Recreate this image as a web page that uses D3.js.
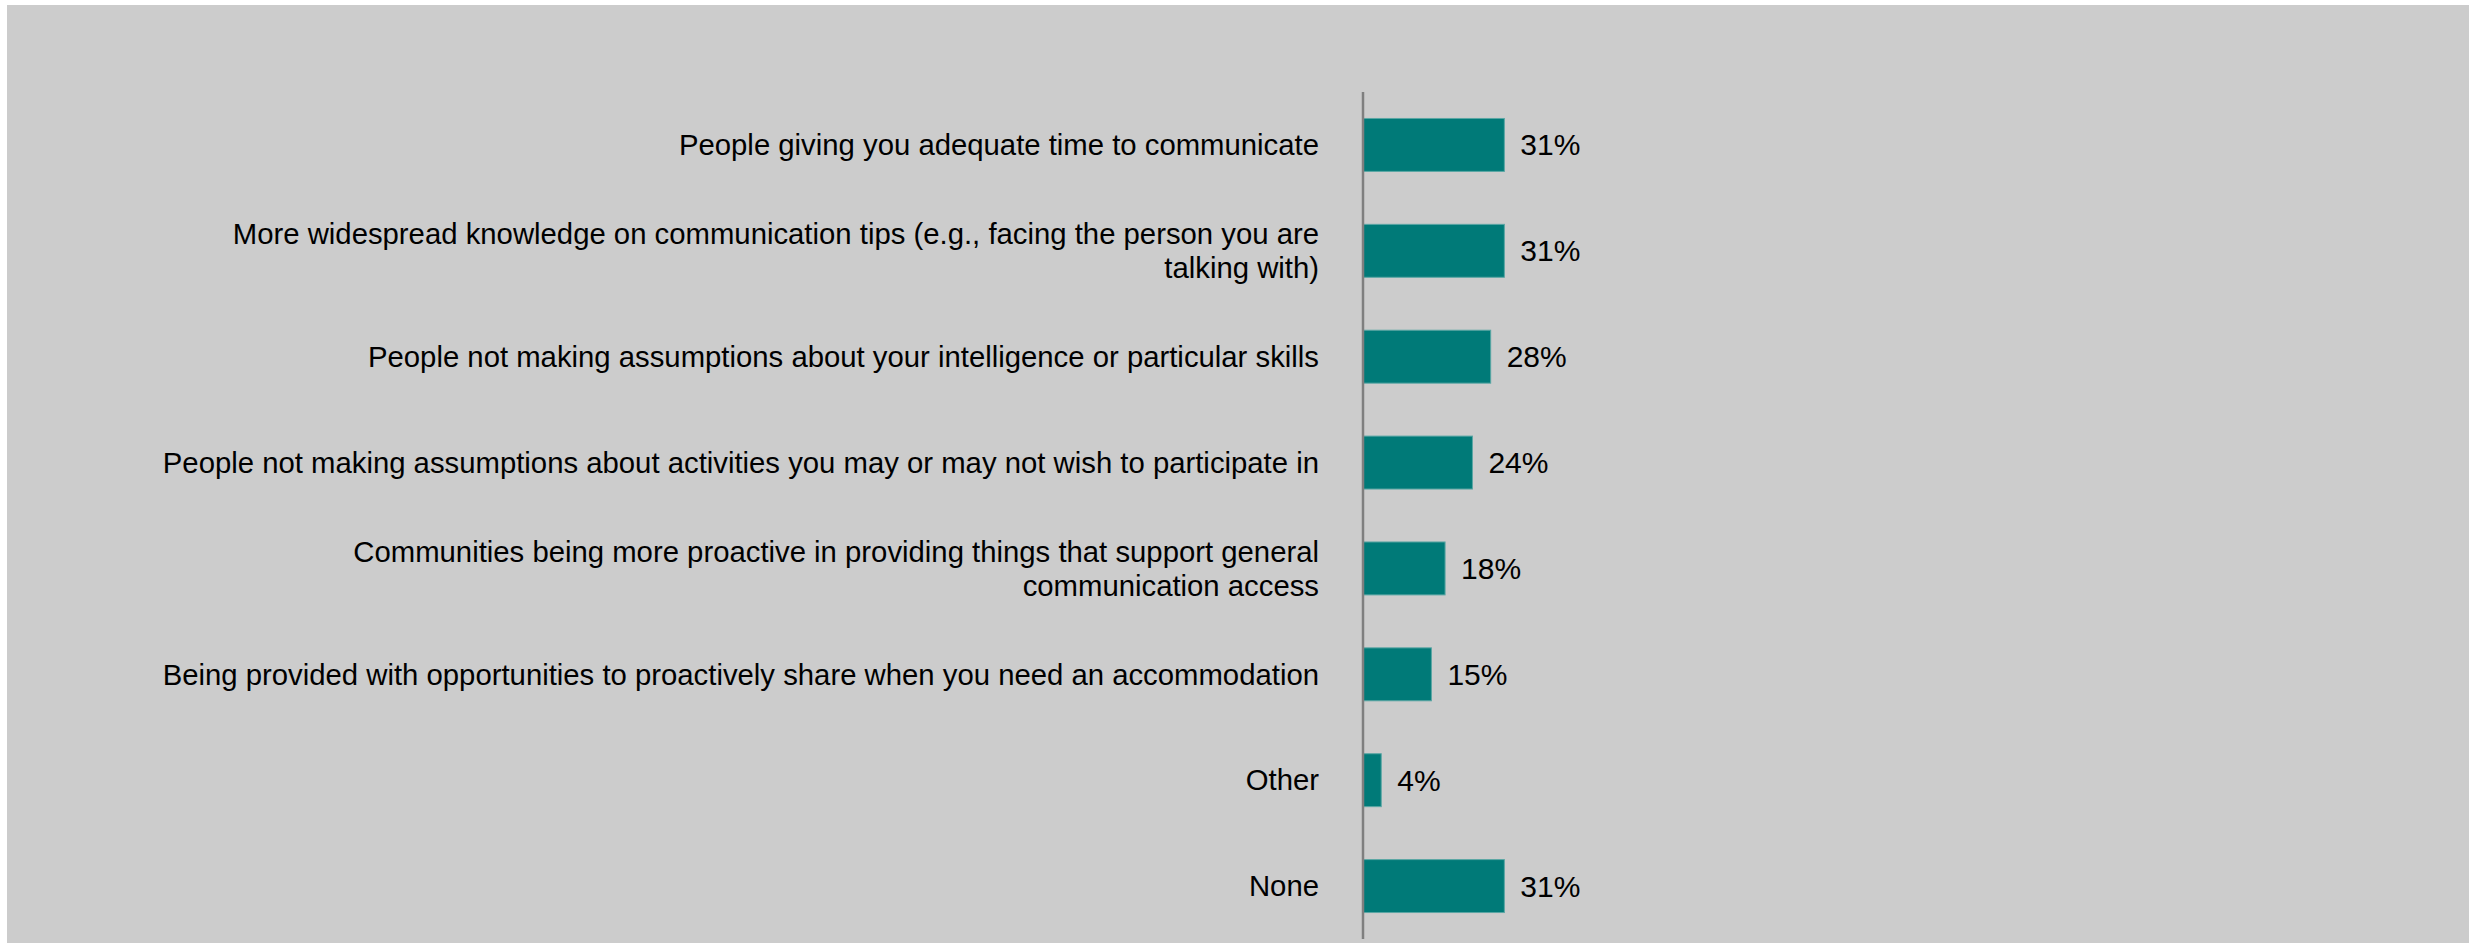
<!DOCTYPE html>
<html>
<head>
<meta charset="utf-8">
<script src="https://cdn.jsdelivr.net/npm/d3@7"></script>
<style>
  html, body { margin: 0; padding: 0; background: #ffffff; }
  svg { display: block; }
  text { font-family: "Liberation Sans", Arial, sans-serif; }
</style>
</head>
<body>
<svg id="chart" width="2469" height="943"></svg>
<script>
// Survey responses: what would make communication easier
const categories = [
  ["People giving you adequate time to communicate"],
  ["More widespread knowledge on communication tips (e.g., facing the person you are", "talking with)"],
  ["People not making assumptions about your intelligence or particular skills"],
  ["People not making assumptions about activities you may or may not wish to participate in"],
  ["Communities being more proactive in providing things that support general", "communication access"],
  ["Being provided with opportunities to proactively share when you need an accommodation"],
  ["Other"],
  ["None"]
];
const values = [31, 31, 28, 24, 18, 15, 4, 31];

const svg = d3.select("#chart");
const W = 2469, H = 943;

// panel background
svg.append("rect")
  .attr("x", 7).attr("y", 5)
  .attr("width", W - 7).attr("height", H - 5)
  .attr("fill", "#cccccc");

const axisX = 1363;
const ids = d3.range(categories.length);

const y = d3.scaleBand()
  .domain(ids)
  .range([92, 939])
  .paddingInner(0.5)
  .paddingOuter(0.25);

const x = d3.scaleLinear()
  .domain([0, 100])
  .range([axisX, axisX + 456]);

// bars
svg.append("g").selectAll("rect")
  .data(ids)
  .join("rect")
  .attr("x", x(0))
  .attr("y", i => y(i))
  .attr("width", i => x(values[i]) - x(0))
  .attr("height", y.bandwidth())
  .attr("fill", "#007a78")
  .attr("stroke", "#5aa6a4")
  .attr("stroke-width", 1);

// category axis line
svg.append("line")
  .attr("x1", axisX).attr("x2", axisX)
  .attr("y1", 92).attr("y2", 939)
  .attr("stroke", "#7f7f7f")
  .attr("stroke-width", 2.5);

// category labels (right-aligned, wrapped lines centred on the bar)
const fontSize = 29.3;
const lineH = 34;
const labels = svg.append("g").selectAll("text")
  .data(ids)
  .join("text")
  .attr("text-anchor", "end")
  .attr("font-size", fontSize)
  .attr("fill", "#000000");

labels.each(function(i) {
  const lines = categories[i];
  const cy = y(i) + y.bandwidth() / 2;
  const first = cy - (lines.length - 1) * lineH / 2;
  d3.select(this).selectAll("tspan")
    .data(lines)
    .join("tspan")
    .attr("x", 1319)
    .attr("y", (d, k) => first + k * lineH)
    .attr("dy", "0.35em")
    .text(d => d);
});

// value labels
svg.append("g").selectAll("text")
  .data(ids)
  .join("text")
  .attr("x", i => x(values[i]) + 16)
  .attr("y", i => y(i) + y.bandwidth() / 2)
  .attr("dy", "0.35em")
  .attr("font-size", 30)
  .attr("fill", "#000000")
  .text(i => values[i] + "%");
</script>
</body>
</html>
